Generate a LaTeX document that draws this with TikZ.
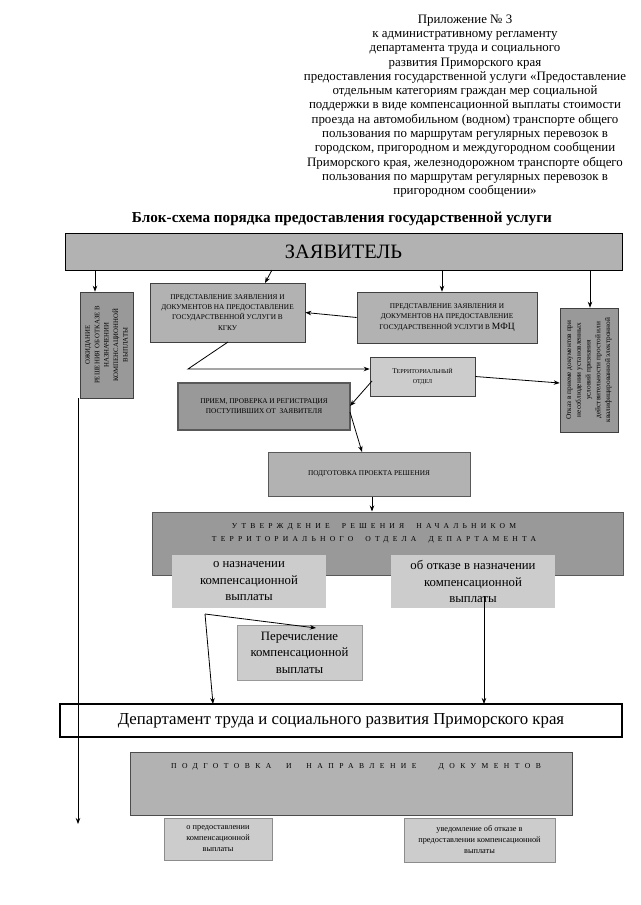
\documentclass[tikz,border=0pt]{standalone}
\usepackage{fontspec}
\setmainfont{Liberation Serif}
\newfontfamily\spacedA[LetterSpace=55]{Liberation Serif}
\newfontfamily\spacedB[LetterSpace=72]{Liberation Serif}
\usetikzlibrary{arrows.meta,calc}
\definecolor{gLight}{gray}{0.80}
\definecolor{gMid}{gray}{0.70}
\definecolor{gDark}{gray}{0.60}
\definecolor{gRim}{gray}{0.35}
\tikzset{
  box/.style={draw=black!75, line width=0.6pt, fill=gMid, inner sep=0pt, align=center},
  caps/.style={font=\fontsize{7.3}{10.2}\selectfont},
  big/.style={font=\fontsize{12.8}{16.5}\selectfont},
  arr/.style={-{Stealth[length=6pt,width=4.5pt]}, line width=0.8pt},
  ln/.style={line width=0.8pt}
}
\begin{document}
\begin{tikzpicture}[x=1pt,y=-1pt]
\useasboundingbox (0,0) rectangle (640,905);

% header
\node[align=center, font=\fontsize{12.9}{14.3}\selectfont, inner sep=0pt] (head) at (465,106) {%
Приложение № 3\\
к административному регламенту\\
департамента труда и социального\\
развития Приморского края\\
предоставления государственной услуги «Предоставление\\
отдельным категориям граждан мер социальной\\
поддержки в виде компенсационной выплаты стоимости\\
проезда на автомобильном (водном) транспорте общего\\
пользования по маршрутам регулярных перевозок в\\
городском, пригородном и междугородном сообщении\\
Приморского края, железнодорожном транспорте общего\\
пользования по маршрутам регулярных перевозок в\\
пригородном сообщении»};

\node[font=\fontsize{15.2}{17}\bfseries, inner sep=0pt] (title) at (342,219) {Блок-схема порядка предоставления государственной услуги};

% boxes
\node[box, fill=gMid, line width=1pt, draw=black, minimum width=557, minimum height=37] (zayav) at (343.5,251.5) {\fontsize{20.4}{22}\selectfont ЗАЯВИТЕЛЬ};

\node[box, fill=gDark, minimum width=53, minimum height=106] (leftbox) at (106.5,345) {};
\node[rotate=90, align=center, inner sep=0pt, font=\fontsize{6.8}{9.4}\selectfont] (lefttxt) at (leftbox.center) {ОЖИДАНИЕ\\РЕШЕНИЯ ОБ ОТКАЗЕ В\\НАЗНАЧЕНИИ\\КОМПЕНСАЦИОННОЙ\\ВЫПЛАТЫ};

\node[box, caps, minimum width=155, minimum height=59] (kgku) at (227.5,312.5) {ПРЕДСТАВЛЕНИЕ ЗАЯВЛЕНИЯ И\\ДОКУМЕНТОВ НА ПРЕДОСТАВЛЕНИЕ\\ГОСУДАРСТВЕННОЙ УСЛУГИ В\\КГКУ};

\node[box, caps, fill=gMid, minimum width=180, minimum height=51] (mfc) at (447,317.5) {ПРЕДСТАВЛЕНИЕ ЗАЯВЛЕНИЯ И\\ДОКУМЕНТОВ НА ПРЕДОСТАВЛЕНИЕ\\ГОСУДАРСТВЕННОЙ УСЛУГИ В {\fontsize{9.5}{10}\selectfont МФЦ}};

\node[box, fill=gDark, minimum width=58, minimum height=124] (rightbox) at (589,370) {};
\node[rotate=90, align=center, inner sep=0pt, font=\fontsize{7.3}{9.8}\selectfont] (righttxt) at (rightbox.center) {Отказ в приеме документов при\\несоблюдении установленных\\условий признания\\действительности простой или\\квалифицированной электронной};

\node[box, caps, fill=gLight, minimum width=105, minimum height=39] (terr) at (422.5,376.5) {Т{\fontsize{6}{10}\selectfont ЕРРИТОРИАЛЬНЫЙ}\\{\fontsize{6}{10}\selectfont ОТДЕЛ}};

\node[box, caps, fill=gDark, draw=gRim, line width=1.4pt, minimum width=172, minimum height=47] (priem) at (264,406.5) {ПРИЕМ, ПРОВЕРКА И РЕГИСТРАЦИЯ\\ПОСТУПИВШИХ ОТ\ \ ЗАЯВИТЕЛЯ};

\node[box, caps, fill=gMid, draw=gRim, line width=1pt, minimum width=202, minimum height=44] (podg) at (369,474) {ПОДГОТОВКА ПРОЕКТА РЕШЕНИЯ};

\node[box, fill=gDark, draw=gRim, line width=1pt, minimum width=471, minimum height=63] (utv) at (387.5,543.5) {};
\node[inner sep=0pt, align=center, font=\fontsize{7.6}{13}\spacedA] (utvtxt) at (374,533.5) {УТВЕРЖДЕНИЕ\ \ РЕШЕНИЯ\ \ НАЧАЛЬНИКОМ\\ТЕРРИТОРИАЛЬНОГО\ \ ОТДЕЛА\ \ ДЕПАРТАМЕНТА};

\node[box, big, fill=gLight, draw=none, minimum width=154, minimum height=53] (onaz) at (249,581.5) {о назначении\\компенсационной\\выплаты};
\node[box, big, fill=gLight, draw=none, minimum width=164, minimum height=53] (otkaz) at (473,581.5) {об отказе в назначении\\компенсационной\\выплаты};

\node[box, big, fill=gLight, draw=black!40, minimum width=125, minimum height=55] (perech) at (299.5,652.5) {Перечисление\\компенсационной\\выплаты};

\node[box, fill=white, draw=black, line width=1.2pt, minimum width=562, minimum height=33] (dept) at (341,720.5) {\fontsize{16.8}{18}\selectfont Департамент труда и социального развития Приморского края};

\node[box, fill=gMid, draw=black!70, minimum width=442, minimum height=63] (podgdoc) at (351,783.5) {};
\node[inner sep=0pt, font=\fontsize{7.6}{10}\spacedB] (podgdoctxt) at (356,767) {ПОДГОТОВКА\ \ И\ \ НАПРАВЛЕНИЕ\ \ \ ДОКУМЕНТОВ};

\node[box, fill=gLight, draw=black!45, font=\fontsize{8.3}{11}\selectfont, minimum width=108, minimum height=42] (predost) at (218,839) {о предоставлении\\компенсационной\\выплаты};
\node[box, fill=gLight, draw=black!45, font=\fontsize{8.3}{11}\selectfont, minimum width=151, minimum height=44] (uved) at (479.5,840) {уведомление об отказе в\\предоставлении компенсационной\\выплаты};

% helper coordinates
\coordinate (xA) at (95,0);
\coordinate (xB) at (442,0);
\coordinate (xC) at (590,0);
\coordinate (xD) at (372,0);
\coordinate (kgA) at (272,270);
\coordinate (kgB) at (265,283);
\coordinate (bend) at (188,369);
\coordinate (kgS) at (228,342);
\coordinate (trO) at (372,381);
\coordinate (prI) at (350,406);
\coordinate (prO) at (350,412);
\coordinate (pdI) at (362,452);
\coordinate (onS) at (205,614);
\coordinate (dpA) at (213,704);
\coordinate (peI) at (316,628);
\coordinate (okS) at (484,596);
\coordinate (dpB) at (484,704);
\coordinate (lbS) at (78,398);
\coordinate (lbE) at (78,824);
\coordinate (rbI) at (0,383);

% connectors
\draw[arr] (zayav.south -| xA) -- (leftbox.north -| xA);
\draw[arr] (kgA) -- (kgB);
\draw[arr] (zayav.south -| xB) -- (mfc.north -| xB);
\draw[arr] (zayav.south -| xC) -- (rightbox.north -| xC);
\draw[arr] (mfc.west) -- (kgku.east);
\draw[arr] (kgS) -- (bend) -- (bend -| terr.west);
\draw[arr] (terr.east) -- (rightbox.west |- rbI);
\draw[arr] (trO) -- (prI);
\draw[arr] (prO) -- (pdI);
\draw[arr] (podg.south -| xD) -- (utv.north -| xD);
\draw[arr] (onS) -- (dpA);
\draw[arr] (onS) -- (peI);
\draw[arr] (okS) -- (dpB);
\draw[arr] (lbS) -- (lbE);
\end{tikzpicture}
\end{document}
